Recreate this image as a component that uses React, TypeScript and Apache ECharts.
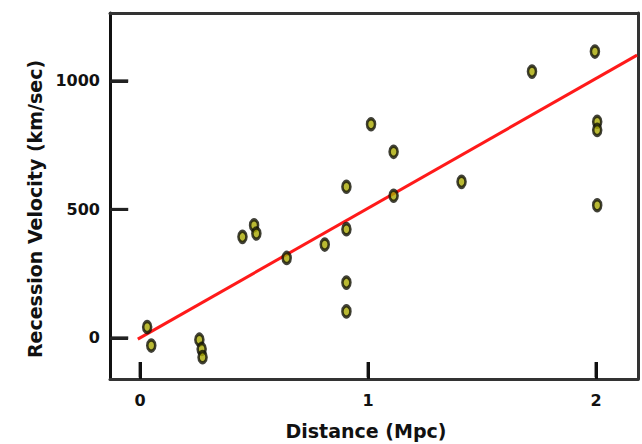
import React, { useEffect, useRef } from "react";
import * as echarts from "echarts";

const distances = [0.031, 0.049, 0.26, 0.27, 0.274, 0.449, 0.5, 0.51, 0.643, 0.81, 0.905, 0.905, 0.905, 0.905, 1.013, 1.112, 1.112, 1.41, 1.719, 1.995, 2.005, 2.005, 2.005];
const velocities = [42, -30, -7, -43, -75, 393, 438, 406, 311, 363, 588, 423, 215, 103, 831, 724, 553, 607, 1036, 1114, 841, 809, 516];
const fitX = [-0.01, 2.18];
const fitY = [-5, 1100];
const xTicks = [0, 1, 2];
const yTicks = [0, 500, 1000];
const xName = "Distance (Mpc)";
const yName = "Recession Velocity (km/sec)";

const X_MIN = -0.132;
const X_MAX = 2.184;
const Y_MIN = -160;
const Y_MAX = 1264;

export default function App() {
  const ref = useRef<HTMLDivElement>(null);
  useEffect(() => {
    if (!ref.current) return;
    const chart = echarts.init(ref.current, null, { renderer: "svg" });
    const points = distances.map((d, i) => [d, velocities[i]]);
    const fit = fitX.map((x, i) => [x, fitY[i]]);
    const font = "'DejaVu Sans', sans-serif";
    const frameLine = { show: true, onZero: false, lineStyle: { color: "#333", width: 3 } };
    const tickSeries: any[] = [
      ...xTicks.map((v) => ({
        type: "line",
        silent: true,
        symbol: "none",
        clip: false,
        data: [
          [v, Y_MIN + 6],
          [v, Y_MIN + 66],
        ],
        lineStyle: { color: "#111", width: 3 },
        z: 6,
      })),
      ...yTicks.map((v) => ({
        type: "line",
        silent: true,
        symbol: "none",
        clip: false,
        data: [
          [X_MIN + 0.006, v],
          [X_MIN + 0.08, v],
        ],
        lineStyle: { color: "#222", width: 3 },
        z: 6,
      })),
    ];
    chart.setOption({
      animation: false,
      backgroundColor: "#ffffff",
      grid: {
        left: 110,
        right: 4,
        top: 13,
        bottom: 65,
        show: false,
      },
      xAxis: [
        {
          type: "value",
          position: "bottom",
          min: X_MIN,
          max: X_MAX,
          axisLine: frameLine,
          splitLine: { show: false },
          axisTick: {
            show: true,
            inside: true,
            length: 17,
            customValues: xTicks,
            lineStyle: { color: "#111", width: 3 },
          },
          axisLabel: {
            customValues: xTicks,
            margin: 13,
            color: "#111",
            fontFamily: font,
            fontWeight: "bold",
            fontSize: 16,
            formatter: (v: number) => String(v),
          },
        },
        {
          type: "value",
          position: "top",
          min: X_MIN,
          max: X_MAX,
          axisLine: frameLine,
          splitLine: { show: false },
          axisTick: { show: false },
          axisLabel: { show: false },
        },
      ],
      yAxis: [
        {
          type: "value",
          position: "left",
          min: Y_MIN,
          max: Y_MAX,
          axisLine: { show: true, onZero: false, lineStyle: { color: "#111", width: 3 } },
          splitLine: { show: false },
          axisTick: {
            show: true,
            inside: true,
            length: 18,
            customValues: yTicks,
            lineStyle: { color: "#222", width: 3 },
          },
          axisLabel: {
            customValues: yTicks,
            margin: 10,
            color: "#111",
            fontFamily: font,
            fontWeight: "bold",
            fontSize: 16,
            formatter: (v: number) => String(v),
          },
        },
        {
          type: "value",
          position: "right",
          min: Y_MIN,
          max: Y_MAX,
          axisLine: frameLine,
          splitLine: { show: false },
          axisTick: { show: false },
          axisLabel: { show: false },
        },
      ],
      graphic: [
        {
          type: "text",
          x: 35,
          y: 209,
          rotation: Math.PI / 2,
          style: {
            text: yName,
            fontFamily: font,
            fontWeight: "bold",
            fontSize: 19,
            fill: "#111",
            textAlign: "center",
            textVerticalAlign: "middle",
          },
        },
        {
          type: "text",
          x: 366,
          y: 431,
          style: {
            text: xName,
            fontFamily: font,
            fontWeight: "bold",
            fontSize: 19,
            fill: "#111",
            textAlign: "center",
            textVerticalAlign: "middle",
          },
        },
      ],
      series: [
        ...tickSeries,
        {
          type: "line",
          data: fit,
          symbol: "none",
          lineStyle: { color: "#ff1a1a", width: 3 },
          z: 2,
        },
        {
          type: "scatter",
          data: points,
          symbol: "circle",
          symbolSize: [8, 11],
          itemStyle: { color: "#a8a800", borderColor: "#111108", borderWidth: 3 },
          z: 3,
        },
      ],
    });
    return () => chart.dispose();
  }, []);
  return <div ref={ref} style={{ width: 642, height: 444, position: "absolute", left: 0, top: 0 }} />;
}
